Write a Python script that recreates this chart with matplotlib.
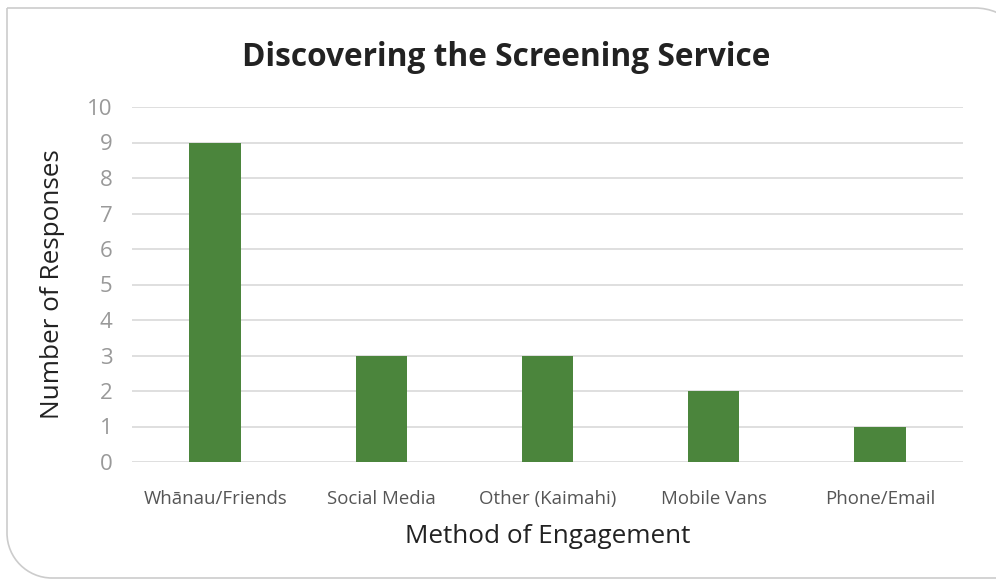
import matplotlib.pyplot as plt
import numpy as np
from matplotlib.path import Path
from matplotlib.patches import PathPatch
from matplotlib.transforms import Affine2D

plt.rcParams['font.family'] = ['Open Sans', 'DejaVu Sans']

categories = ['Whānau/Friends', 'Social Media', 'Other (Kaimahi)', 'Mobile Vans', 'Phone/Email']
responses = [9, 3, 3, 2, 1]
y_ticks = list(range(0, 11))

W, H = 996, 579
fig = plt.figure(figsize=(W / 100, H / 100), dpi=100)
fig.patch.set_facecolor('white')

# card outline: square top-left, rounded top-right and bottom-left, right edge runs off the canvas
px = Affine2D().scale(1 / W, 1 / H) + fig.transFigure
k = 0.5523
r_tr, r_bl = 55, 45
x0, x1, y_top, y_bot = 7, 1030, H - 8, 1
verts = [
    (x0, y_top),
    (x1 - r_tr, y_top),
    (x1 - r_tr + k * r_tr, y_top), (x1, y_top - r_tr + k * r_tr), (x1, y_top - r_tr),
    (x1, y_bot),
    (x0 + r_bl, y_bot),
    (x0 + r_bl - k * r_bl, y_bot), (x0, y_bot + r_bl - k * r_bl), (x0, y_bot + r_bl),
    (x0, y_top),
]
codes = [Path.MOVETO, Path.LINETO, Path.CURVE4, Path.CURVE4, Path.CURVE4,
         Path.LINETO, Path.LINETO, Path.CURVE4, Path.CURVE4, Path.CURVE4, Path.LINETO]
fig.patches.append(PathPatch(Path(verts, codes), transform=px, fill=False,
                             edgecolor='#cccccc', linewidth=1.2, clip_on=False))

ax = fig.add_axes([132 / W, 1 - 462 / H, (963 - 132) / W, (462 - 107) / H])
x = np.arange(len(categories))
ax.bar(x, responses, width=0.31, color='#4b853c', zorder=3)

ax.set_xlim(-0.5, len(categories) - 0.5)
ax.set_ylim(0, 10)
ax.set_yticks(y_ticks)
ax.set_xticks(x)
ax.set_xticklabels(categories, fontsize=13.4, color='#555555')
ax.tick_params(axis='y', labelsize=16, colors='#999999', length=0, pad=14)
ax.tick_params(axis='x', length=0, pad=20)
ax.grid(axis='y', color='#d9d9d9', linewidth=1.2, zorder=0)
for s in ax.spines.values():
    s.set_visible(False)

ax.set_ylabel('Number of Responses', fontsize=18.8, color='#222222', labelpad=16)
ax.set_xlabel('Method of Engagement', fontsize=18.8, color='#222222', labelpad=12)
fig.text(506 / W, 1 - 57 / H, 'Discovering the Screening Service', fontsize=22.8,
         fontweight='bold', color='#222222', ha='center', va='center')

fig.savefig('out.png', dpi=100)
